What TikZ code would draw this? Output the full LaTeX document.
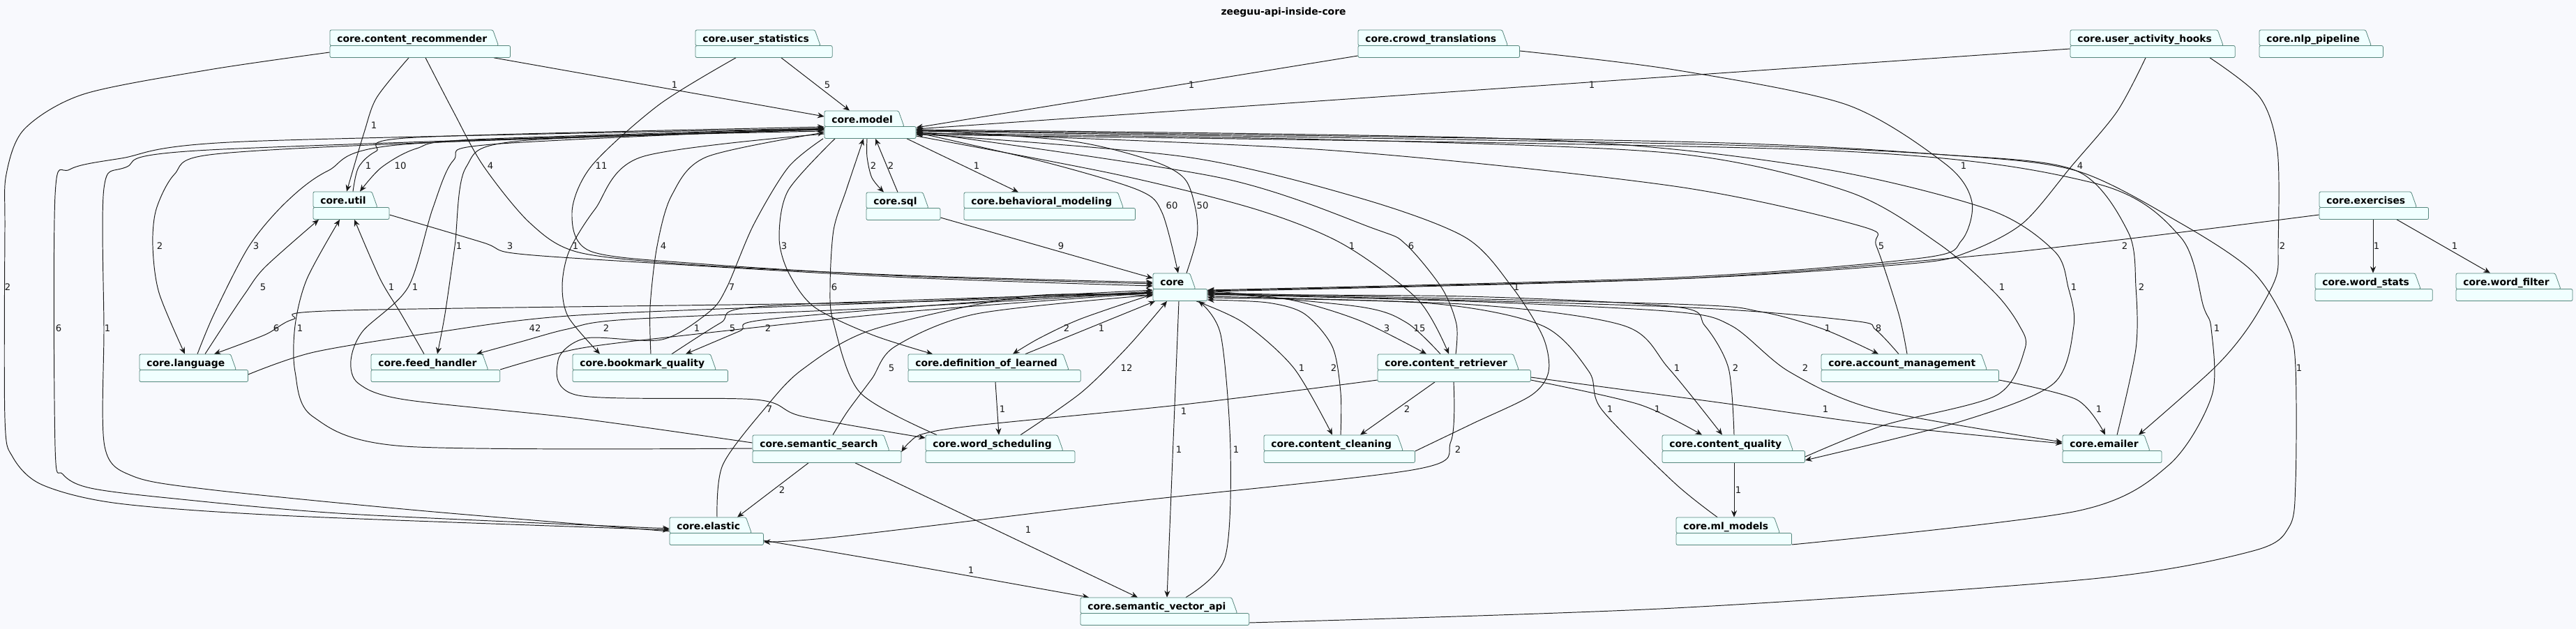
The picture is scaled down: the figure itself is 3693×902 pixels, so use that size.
\documentclass[tikz,border=0pt]{standalone}
\usepackage{fontspec}
\setmainfont{DejaVu Sans}
\usetikzlibrary{arrows.meta,calc,fit,backgrounds}

\definecolor{canvas}{RGB}{248,249,253}
\definecolor{pkgfill}{RGB}{240,255,255}
\definecolor{pkgedge}{RGB}{85,135,125}
\definecolor{wire}{RGB}{24,24,24}

% package: name, left x, top y, label
\newcommand\pkg[4]{%
  \node[pkgname, anchor=base west] (#1t) at (#2+10,#3+17.5) {\phantom{#4}};
  \filldraw[pkgline] (#2,#3+22.5) |- ($(#1t.base east)+(8,-17.5)$) -- ($(#1t.base east)+(16,5)$) -- cycle;
  \filldraw[pkgline] (#2,#3+22.5) rectangle ($(#1t.base east)+(33,22)$);
  \node[pkgname, anchor=base west] (#1l) at (#1t.base west) {#4};
  \coordinate (#1a) at (#2,#3);
  \coordinate (#1b) at ($(#1t.base east)+(33,22)$);
  \node[fit=(#1a)(#1b), inner sep=0pt] (#1) {};
}

\begin{document}
\begin{tikzpicture}[x=0.02cm, y=-0.02cm,
  pkgname/.style={font=\fontsize{7.9}{9}\selectfont\bfseries, inner sep=0pt},
  pkgline/.style={draw=pkgedge, fill=pkgfill, line width=0.45pt, rounded corners=1.2pt},
  dep/.style={-{Stealth[length=5.5pt,width=4.6pt,inset=1.8pt]}, draw=wire, line width=0.55pt},
  lbl/.style={font=\fontsize{7.5}{9}\selectfont, inner sep=0pt, text=wire},
]
\useasboundingbox (0,0) rectangle (3693,902);
\begin{scope}[on background layer]
  \fill[canvas] (0,0) rectangle (3693,902);
\end{scope}

\node[font=\fontsize{7.9}{9}\selectfont\bfseries] (title) at (1840,18) {zeeguu-api-inside-core};

% packages, row by row
\pkg{rec}{473}{43}{core.content\_recommender}
\pkg{ustat}{997}{43}{core.user\_statistics}
\pkg{crowd}{1947}{43}{core.crowd\_translations}
\pkg{hooks}{2968}{43}{core.user\_activity\_hooks}
\pkg{nlp}{3239}{43}{core.nlp\_pipeline}
\pkg{model}{1182}{159}{core.model}
\pkg{util}{449}{275}{core.util}
\pkg{sql}{1242}{276}{core.sql}
\pkg{behav}{1382}{276}{core.behavioral\_modeling}
\pkg{ex}{3325}{275}{core.exercises}
\pkg{core}{1653}{392}{core}
\pkg{wstats}{3319}{392}{core.word\_stats}
\pkg{wfilter}{3521}{392}{core.word\_filter}
\pkg{lang}{200}{508}{core.language}
\pkg{feed}{532}{508}{core.feed\_handler}
\pkg{bq}{821}{508}{core.bookmark\_quality}
\pkg{defl}{1302}{508}{core.definition\_of\_learned}
\pkg{retr}{1975}{508}{core.content\_retriever}
\pkg{acct}{2611}{508}{core.account\_management}
\pkg{ssearch}{1079}{624}{core.semantic\_search}
\pkg{wsched}{1327}{624}{core.word\_scheduling}
\pkg{clean}{1812}{624}{core.content\_cleaning}
\pkg{cq}{2383}{624}{core.content\_quality}
\pkg{email}{2957}{624}{core.emailer}
\pkg{elastic}{960}{742}{core.elastic}
\pkg{ml}{2403}{742}{core.ml\_models}
\pkg{sva}{1549}{857}{core.semantic\_vector\_api}

\begin{scope}[on background layer]
% from the top row
\draw[dep] (708,0 |- rec.south) -- (model.west |- 0,167);
\draw[dep] (1120,0 |- ustat.south) -- (1218,0 |- model.north);
\draw[dep] (crowd.west |- 0,80) -- (model.east |- 0,183);
\draw[dep] (hooks.west |- 0,70) -- (model.east |- 0,185);
\draw[dep] plot[smooth] coordinates {(586,0 |- rec.south) (540,140) (522,190) (497,0 |- util.north)};
\draw[dep] plot[smooth] coordinates {(610,0 |- rec.south) (650,160) (693,238) (760,320) (830,362) (1000,380) (1300,395) (core.west |- 0,405)};
\draw[dep] plot[smooth] coordinates {(1055,0 |- ustat.south) (945,150) (848,238) (820,305) (846,360) (1000,378) (1300,396) (core.west |- 0,407)};
\draw[dep] plot[smooth] coordinates {(crowd.east |- 0,73) (2400,100) (2647,150) (2790,236) (2827,290) (2812,345) (2755,370) (2400,398) (core.east |- 0,416)};
\draw[dep] plot[smooth] coordinates {(3076,0 |- hooks.south) (3035,160) (2970,238) (2900,320) (2820,362) (2740,378) (2400,400) (core.east |- 0,417)};
\draw[dep] plot[smooth] coordinates {(3168,0 |- hooks.south) (3240,140) (3265,217) (3266,353) (3262,400) (3225,467) (3175,527) (3066,0 |- email.north)};
\draw[dep] plot[smooth] coordinates {(rec.west |- 0,75) (300,100) (120,135) (35,185) (9,250) (7,330) (7,600) (18,655) (60,695) (170,722) (420,740) (elastic.west |- 0,760)};
% around core.model
\draw[dep] plot[smooth] coordinates {(506,0 |- util.north) (514,240) (539,217) (597,197) (model.west |- 0,182)};
\draw[dep] plot[smooth] coordinates {(model.west |- 0,184) (680,200) (597,213) (547,240) (516,0 |- util.north)};
\draw[dep] plot[smooth] coordinates {(1243,0 |- model.south) (1243,225) (1250,255) (1267,0 |- sql.north)};
\draw[dep] (1287,0 |- sql.north) -- (1255,0 |- model.south);
\draw[dep] (1300,0 |- model.south) -- (1460,0 |- behav.north);
\draw[dep] plot[smooth] coordinates {(model.east |- 0,190) (1500,233) (1633,273) (1666,305) (1689,0 |- core.north)};
\draw[dep] plot[smooth] coordinates {(1701,0 |- core.north) (1716,340) (1714,300) (1698,256) (1650,230) (1533,202) (model.east |- 0,186)};
\draw[dep] plot[smooth] coordinates {(model.west |- 0,186) (600,205) (300,222) (250,250) (224,300) (219,353) (228,420) (265,0 |- lang.north)};
\draw[dep] plot[smooth] coordinates {(283,0 |- lang.north) (307,450) (357,353) (410,290) (470,245) (580,207) (model.west |- 0,186)};
\draw[dep] plot[smooth] coordinates {(model.west |- 0,188) (746,202) (668,240) (652,353) (638,450) (627,0 |- feed.north)};
\draw[dep] plot[smooth] coordinates {(util.east |- 0,308) (693,348) (735,363) (900,375) (1300,398) (core.west |- 0,410)};
\draw[dep] plot[smooth] coordinates {(model.west |- 0,192) (920,225) (853,300) (816,360) (806,410) (815,455) (860,0 |- bq.north)};
\draw[dep] plot[smooth] coordinates {(933,0 |- bq.north) (932,440) (942,353) (963,280) (1013,225) (model.west |- 0,190)};
\draw[dep] plot[smooth] coordinates {(1197,0 |- model.south) (1130,273) (1117,340) (1130,390) (1167,440) (1250,480) (1337,0 |- defl.north)};
\draw[dep] (sql.east |- 0,312) -- (core.west |- 0,399);
\draw[dep] plot[smooth] coordinates {(model.east |- 0,195) (1600,250) (1800,300) (1925,350) (2033,430) (2077,0 |- retr.north)};
\draw[dep] plot[smooth] coordinates {(2087,0 |- retr.north) (2088,465) (2067,413) (2015,350) (1970,328) (1750,255) (model.east |- 0,189)};
\draw[dep] plot[smooth] coordinates {(2734,0 |- acct.north) (2722,450) (2690,353) (2670,325) (2400,267) (1900,215) (model.east |- 0,190)};
\draw[dep] plot[smooth] coordinates {(ex.west |- 0,308) (3046,343) (2800,370) (2400,400) (core.east |- 0,418)};
\draw[dep] (3402,0 |- ex.south) -- (3402,0 |- wstats.north);
\draw[dep] (3436,0 |- ex.south) -- (3570,0 |- wfilter.north);
\draw[dep] plot[smooth] coordinates {(294,0 |- lang.north) (325,460) (352,420) (380,383) (457,0 |- util.south)};
\draw[dep] plot[smooth] coordinates {(608,0 |- feed.north) (575,450) (545,400) (508,0 |- util.south)};
\draw[dep] plot[smooth] coordinates {(ssearch.west |- 0,635) (829,600) (580,573) (514,550) (503,517) (520,475) (585,412) (620,300) (650,230) (705,207) (model.west |- 0,184)};
\draw[dep] plot[smooth] coordinates {(1180,0 |- model.south) (1130,240) (1080,323) (1042,412) (1017,447) (949,487) (840,485) (800,517) (829,567) (1083,573) (1150,597) (wsched.west |- 0,628)};
\draw[dep] plot[smooth] coordinates {(1343,0 |- wsched.north) (1233,563) (1195,463) (1190,412) (1195,330) (1213,273) (1238,0 |- model.south)};
\draw[dep] plot[smooth] coordinates {(clean.east |- 0,647) (2112,607) (2195,567) (2220,533) (2212,483) (2168,412) (2100,340) (1946,283) (1700,225) (model.east |- 0,192)};
\draw[dep] plot[smooth] coordinates {(cq.east |- 0,655) (2700,610) (2862,567) (2903,500) (2895,467) (2860,420) (2780,350) (2650,275) (2400,220) (1900,200) (model.east |- 0,191)};
\draw[dep] plot[smooth] coordinates {(model.east |- 0,186) (2200,200) (2600,240) (2850,300) (2945,360) (2965,412) (2973,467) (2944,550) (2812,604) (cq.east |- 0,660)};
\draw[dep] plot[smooth] coordinates {(3035,0 |- email.north) (3062,500) (3062,412) (3051,333) (2977,245) (2788,222) (2400,206) (model.east |- 0,188)};
\draw[dep] plot[smooth] coordinates {(model.west |- 0,184) (350,203) (174,227) (100,243) (79,280) (79,640) (90,680) (130,700) (250,715) (500,737) (elastic.west |- 0,758)};
\draw[dep] plot[smooth] coordinates {(elastic.west |- 0,762) (600,732) (300,702) (191,683) (150,640) (149,471) (149,270) (180,240) (300,215) (model.west |- 0,185)};
\draw[dep] plot[smooth] coordinates {(ml.east |- 0,781) (2977,733) (3109,667) (3171,567) (3170,471) (3159,440) (3126,340) (3000,262) (2600,215) (model.east |- 0,193)};
\draw[dep] plot[smooth] coordinates {(sva.east |- 0,893) (2400,872) (3000,830) (3230,790) (3282,755) (3291,690) (3291,528) (3280,470) (3230,390) (3126,320) (2977,245) (2788,222) (2400,203) (model.east |- 0,187)};
% around core
\draw[dep] plot[smooth] coordinates {(core.west |- 0,418) (1300,433) (497,445) (420,458) (380,480) (307,0 |- lang.north)};
\draw[dep] plot[smooth] coordinates {(ssearch.west |- 0,643) (580,640) (448,597) (423,533) (423,467) (440,400) (487,0 |- util.south)};
\draw[dep] plot[smooth] coordinates {(lang.east |- 0,537) (450,505) (622,477) (829,452) (1300,433) (core.west |- 0,416)};
\draw[dep] plot[smooth] coordinates {(core.west |- 0,419) (1300,440) (900,458) (813,472) (747,490) (683,0 |- feed.north)};
\draw[dep] plot[smooth] coordinates {(feed.east |- 0,530) (829,500) (990,480) (1300,447) (core.west |- 0,420)};
\draw[dep] plot[smooth] coordinates {(963,0 |- bq.north) (1033,463) (1083,440) (1470,425) (core.west |- 0,420)};
\draw[dep] plot[smooth] coordinates {(core.west |- 0,421) (1470,428) (1100,458) (1060,475) (983,0 |- bq.north)};
\draw[dep] plot[smooth] coordinates {(core.west |- 0,422) (1550,457) (1490,485) (1452,0 |- defl.north)};
\draw[dep] (1470,0 |- defl.north) -- (1656,0 |- core.south);
\draw[dep] plot[smooth] coordinates {(core.east |- 0,417) (1850,430) (1950,460) (2045,0 |- retr.north)};
\draw[dep] plot[smooth] coordinates {(2065,0 |- retr.north) (2017,463) (1950,440) (core.east |- 0,419)};
\draw[dep] plot[smooth] coordinates {(core.east |- 0,420) (2400,436) (2524,447) (2614,472) (2693,0 |- acct.north)};
\draw[dep] plot[smooth] coordinates {(2722,0 |- acct.north) (2689,473) (2656,460) (2400,440) (core.east |- 0,421)};
\draw[dep] plot[smooth] coordinates {(1194,0 |- ssearch.north) (1215,590) (1250,543) (1283,497) (1400,450) (core.west |- 0,423)};
\draw[dep] plot[smooth] coordinates {(1463,0 |- wsched.north) (1550,563) (1617,497) (1673,0 |- core.south)};
\draw[dep] plot[smooth] coordinates {(1715,0 |- core.south) (1783,463) (1855,528) (1910,0 |- clean.north)};
\draw[dep] plot[smooth] coordinates {(1922,0 |- clean.north) (1922,563) (1910,497) (1870,450) (1817,434) (core.east |- 0,430)};
\draw[dep] plot[smooth] coordinates {(core.east |- 0,425) (2112,437) (2328,467) (2392,528) (2469,0 |- cq.north)};
\draw[dep] plot[smooth] coordinates {(2486,0 |- cq.north) (2478,528) (2444,467) (2402,440) (2100,425) (core.east |- 0,423)};
\draw[dep] plot[smooth] coordinates {(core.east |- 0,422) (2100,432) (2400,447) (2482,467) (2565,533) (2689,587) (email.west |- 0,634)};
\draw[dep] plot[smooth] coordinates {(1028,0 |- elastic.north) (1036,667) (1097,585) (1150,530) (1250,473) (1470,425) (core.west |- 0,424)};
\draw[dep] plot[smooth] coordinates {(2462,0 |- ml.north) (2400,692) (2296,587) (2278,533) (2211,467) (2050,435) (core.east |- 0,427)};
\draw[dep] (1690,0 |- core.south) -- (1673,0 |- sva.north);
\draw[dep] plot[smooth] coordinates {(1700,0 |- sva.north) (1756,800) (1764,645) (1750,480) (1718,0 |- core.south)};
% lower rows
\draw[dep] (1427,0 |- defl.south) -- (1432,0 |- wsched.north);
\draw[dep] plot[smooth] coordinates {(retr.west |- 0,545) (1697,580) (1400,610) (1324,622) (1303,635) (ssearch.east |- 0,648)};
\draw[dep] (2057,0 |- retr.south) -- (1950,0 |- clean.north);
\draw[dep] plot[smooth] coordinates {(retr.east |- 0,545) (2350,580) (2440,0 |- cq.north)};
\draw[dep] plot[smooth] coordinates {(retr.east |- 0,541) (2470,578) (2700,610) (email.west |- 0,636)};
\draw[dep] plot[smooth] coordinates {(acct.east |- 0,545) (2977,573) (3018,0 |- email.north)};
\draw[dep] plot[smooth] coordinates {(2084,0 |- retr.south) (2080,633) (2030,673) (1615,720) (1200,770) (elastic.east |- 0,777)};
\draw[dep] (1159,0 |- ssearch.south) -- (1057,0 |- elastic.north);
\draw[dep] (2486,0 |- cq.south) -- (2486,0 |- ml.north);
\draw[dep] (1226,0 |- ssearch.south) -- (1631,0 |- sva.north);
\draw[dep] plot[smooth] coordinates {(elastic.east |- 0,775) (1300,810) (1561,0 |- sva.north)};
\end{scope}

% counts
\node[lbl] (n1) at (967,122) {1};
\node[lbl] (n2) at (1186,122) {5};
\node[lbl] (n3) at (1708,122) {1};
\node[lbl] (n4) at (2282,122) {1};
\node[lbl] (n5) at (536,180) {1};
\node[lbl] (n6) at (528,238) {1};
\node[lbl] (n7) at (574,238) {10};
\node[lbl] (n8) at (703,238) {4};
\node[lbl] (n9) at (862,238) {11};
\node[lbl] (n10) at (1252,238) {2};
\node[lbl] (n11) at (1277,238) {2};
\node[lbl] (n12) at (1400,238) {1};
\node[lbl] (n13) at (2815,238) {1};
\node[lbl] (n14) at (2982,238) {4};
\node[lbl] (n15) at (1680,295) {60};
\node[lbl] (n16) at (1724,295) {50};
\node[lbl] (n17) at (229,353) {2};
\node[lbl] (n18) at (367,353) {3};
\node[lbl] (n19) at (658,353) {1};
\node[lbl] (n20) at (731,353) {3};
\node[lbl] (n21) at (825,353) {1};
\node[lbl] (n22) at (951,353) {4};
\node[lbl] (n23) at (1124,353) {3};
\node[lbl] (n24) at (1521,353) {9};
\node[lbl] (n25) at (1938,353) {1};
\node[lbl] (n26) at (2023,353) {6};
\node[lbl] (n27) at (2697,353) {5};
\node[lbl] (n28) at (3046,353) {2};
\node[lbl] (n29) at (3272,353) {2};
\node[lbl] (n30) at (3407,353) {1};
\node[lbl] (n31) at (3519,353) {1};
\node[lbl] (n32) at (11,412) {2};
\node[lbl] (n33) at (377,412) {5};
\node[lbl] (n34) at (561,412) {1};
\node[lbl] (n35) at (595,412) {1};
\node[lbl] (n36) at (1049,412) {7};
\node[lbl] (n37) at (1196,412) {6};
\node[lbl] (n38) at (2174,412) {1};
\node[lbl] (n39) at (2870,412) {1};
\node[lbl] (n40) at (2973,412) {1};
\node[lbl] (n41) at (3070,412) {2};
\node[lbl] (n42) at (84,471) {6};
\node[lbl] (n43) at (154,471) {1};
\node[lbl] (n44) at (396,471) {6};
\node[lbl] (n45) at (430,471) {1};
\node[lbl] (n46) at (767,471) {42};
\node[lbl] (n47) at (869,471) {2};
\node[lbl] (n48) at (999,471) {1};
\node[lbl] (n49) at (1050,471) {5};
\node[lbl] (n50) at (1101,471) {2};
\node[lbl] (n51) at (1529,471) {2};
\node[lbl] (n52) at (1579,471) {1};
\node[lbl] (n53) at (1988,471) {3};
\node[lbl] (n54) at (2035,471) {15};
\node[lbl] (n55) at (2620,471) {1};
\node[lbl] (n56) at (2693,471) {8};
\node[lbl] (n57) at (3178,471) {1};
\node[lbl] (n58) at (1278,528) {5};
\node[lbl] (n59) at (1615,528) {12};
\node[lbl] (n60) at (1866,528) {1};
\node[lbl] (n61) at (1912,528) {2};
\node[lbl] (n62) at (2404,528) {1};
\node[lbl] (n63) at (2488,528) {2};
\node[lbl] (n64) at (2588,528) {2};
\node[lbl] (n65) at (3296,528) {1};
\node[lbl] (n66) at (1103,587) {7};
\node[lbl] (n67) at (1437,587) {1};
\node[lbl] (n68) at (1697,590) {1};
\node[lbl] (n69) at (2017,587) {2};
\node[lbl] (n70) at (2308,587) {1};
\node[lbl] (n71) at (2376,587) {1};
\node[lbl] (n72) at (2617,587) {1};
\node[lbl] (n73) at (3009,587) {1};
\node[lbl] (n74) at (1690,645) {1};
\node[lbl] (n75) at (1772,645) {1};
\node[lbl] (n76) at (2090,645) {2};
\node[lbl] (n77) at (1121,703) {2};
\node[lbl] (n78) at (2492,703) {1};
\node[lbl] (n79) at (1474,760) {1};
\node[lbl] (n80) at (1392,818) {1};
\end{tikzpicture}
\end{document}
